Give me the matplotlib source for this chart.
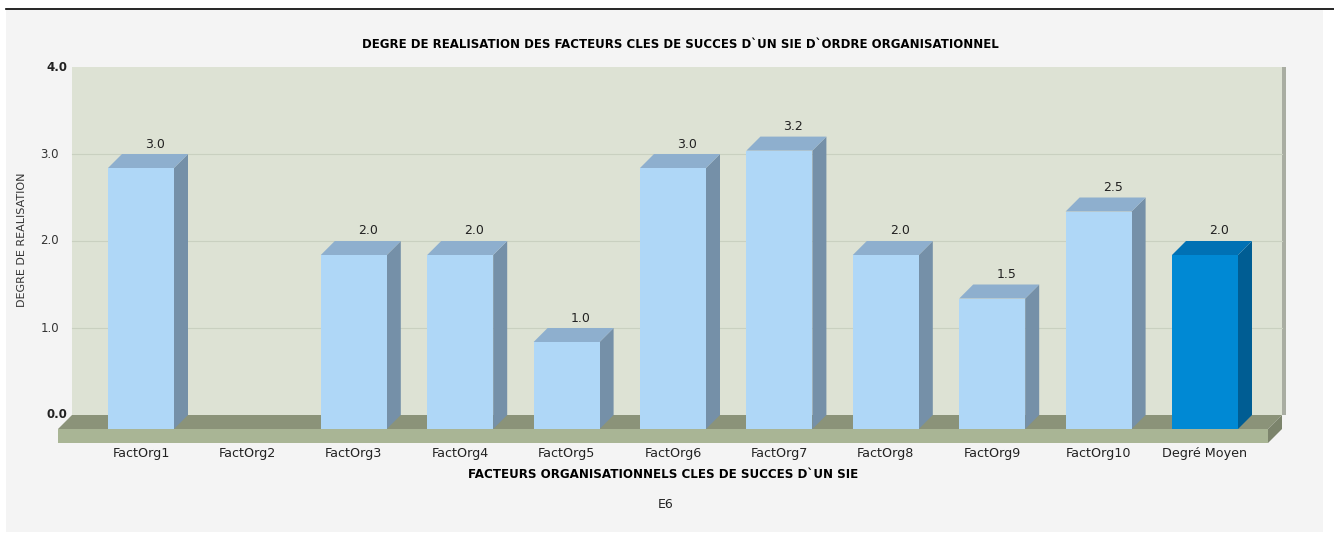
import matplotlib
matplotlib.use("Agg")
import matplotlib.pyplot as plt
from matplotlib.patches import Polygon, Rectangle
from matplotlib.lines import Line2D

# data
categories = ['FactOrg1', 'FactOrg2', 'FactOrg3', 'FactOrg4', 'FactOrg5', 'FactOrg6',
              'FactOrg7', 'FactOrg8', 'FactOrg9', 'FactOrg10', 'Degré Moyen']
values = [3.0, 0.0, 2.0, 2.0, 1.0, 3.0, 3.2, 2.0, 1.5, 2.5, 2.0]
y_ticks = [0.0, 1.0, 2.0, 3.0, 4.0]

title = "DEGRE DE REALISATION DES FACTEURS CLES DE SUCCES D`UN SIE D`ORDRE ORGANISATIONNEL"
xlabel = "FACTEURS ORGANISATIONNELS CLES DE SUCCES D`UN SIE"
ylabel = "DEGRE DE REALISATION"
caption = "E6"

W, H = 1334, 533
fig = plt.figure(figsize=(W / 100, H / 100), dpi=100)
fig.patch.set_facecolor('white')

# light grey panel and black rule on top
fig.add_artist(Rectangle((6 / W, 1 - 532 / H), (1323 - 6) / W, (532 - 10) / H,
                         transform=fig.transFigure, facecolor='#f4f4f4', edgecolor='none', zorder=0))
fig.add_artist(Line2D([6 / W, 1], [1 - 9 / H, 1 - 9 / H], transform=fig.transFigure,
                      color='black', lw=1.2, zorder=1))

# axes: x in category units, y in value units (front plane)
px_x = 106.4   # pixels per category
px_y = 87.0    # pixels per value unit
x0_px, y0_px = 141, 429   # first category / zero line in pixels
left_px, right_px, bot_px, top_px = 58, 1292, 443, 60
ax = fig.add_axes([left_px / W, 1 - bot_px / H, (right_px - left_px) / W, (bot_px - top_px) / H])
ax.set_xlim(-(x0_px - left_px) / px_x, (right_px - x0_px) / px_x)
ax.set_ylim(-(bot_px - y0_px) / px_y, (y0_px - top_px) / px_y)
ax.axis('off')

DX = 14 / px_x      # depth offset
DY = 14 / px_y
THK = 14 / px_y     # floor thickness
XL = -(x0_px - 58) / px_x
XR = (1268 - x0_px) / px_x
ymax = y_ticks[-1]

# back wall
ax.add_patch(Rectangle((XL + DX, DY), XR - XL, ymax, facecolor='#dde2d4', edgecolor='none', zorder=1))
ax.add_patch(Rectangle((XR + DX, DY), 4 / px_x, ymax, facecolor='#a9ada2', edgecolor='none', zorder=1))
for t in y_ticks[1:-1]:
    ax.plot([XL + DX, XR + DX], [t + DY, t + DY], color='#c9d0c0', lw=0.8, zorder=2)
for t in y_ticks:
    bold = t in (y_ticks[0], y_ticks[-1])
    gap = 5 if bold else 13
    ax.text(XL + DX - gap / px_x, t + DY, f"{t:.1f}", ha='right', va='center', fontsize=8.5,
            fontweight='bold' if bold else 'normal', color='#222222' if bold else '#333333')

# floor slab
ax.add_patch(Polygon([(XL, 0), (XR, 0), (XR + DX, DY), (XL + DX, DY)],
                     facecolor='#8b9379', edgecolor='none', zorder=3))
ax.add_patch(Rectangle((XL, -THK), XR - XL, THK, facecolor='#a9b595', edgecolor='none', zorder=3))
ax.add_patch(Polygon([(XR, -THK), (XR, 0), (XR + DX, DY), (XR + DX, DY - THK)],
                     facecolor='#7c846c', edgecolor='none', zorder=3))

# bars
bw = 66 / px_x
for i, (cat, v) in enumerate(zip(categories, values)):
    if cat == 'Degré Moyen':
        c_front, c_side, c_top = '#0089d4', '#005d93', '#0071b4'
    else:
        c_front, c_side, c_top = '#afd7f7', '#7590a8', '#8eafce'
    xa, xb = i - bw / 2, i + bw / 2
    ax.text(i, -THK - 11 / px_y, cat, ha='center', va='center', fontsize=9.2, color='#222222')
    if v <= 0:
        continue
    ax.add_patch(Polygon([(xb, 0), (xb + DX, DY), (xb + DX, v + DY), (xb, v)],
                         facecolor=c_side, edgecolor='none', zorder=4))
    ax.add_patch(Polygon([(xa, v), (xb, v), (xb + DX, v + DY), (xa + DX, v + DY)],
                         facecolor=c_top, edgecolor='none', zorder=4))
    ax.add_patch(Rectangle((xa, 0), bw, v, facecolor=c_front, edgecolor='none', zorder=5))
    ax.text(i + DX, v + DY + 10 / px_y, f"{v:.1f}", ha='center', va='center',
            fontsize=9, color='#222222', zorder=6)

fig.text(680 / W, 1 - 44 / H, title, ha='center', va='center', fontsize=8.5, fontweight='bold')
fig.text(663 / W, 1 - 474 / H, xlabel, ha='center', va='center', fontsize=8.6, fontweight='bold')
fig.text(22 / W, 1 - 240 / H, ylabel, ha='center', va='center', rotation=90, fontsize=8,
         color='#333333')
fig.text(666 / W, 1 - 504 / H, caption, ha='center', va='center', fontsize=9, color='#222222')

fig.savefig('out.png', dpi=100, facecolor=fig.get_facecolor())
